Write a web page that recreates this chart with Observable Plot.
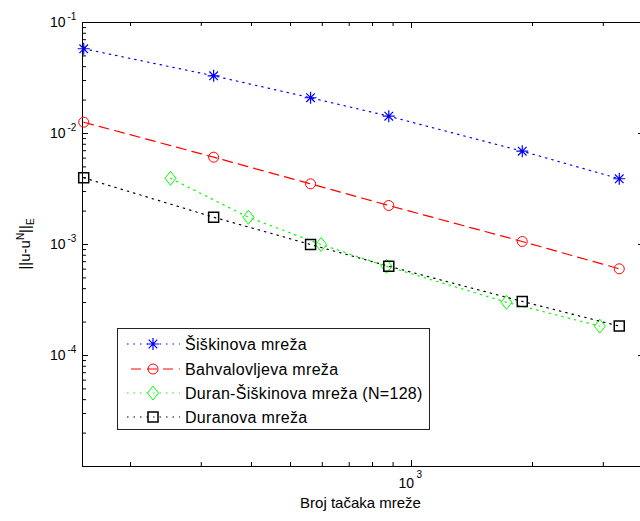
<!DOCTYPE html>
<html><head><meta charset="utf-8">
<script src="https://cdn.jsdelivr.net/npm/d3@7"></script>
<script src="https://cdn.jsdelivr.net/npm/@observablehq/plot@0.6"></script>
<style>
html,body{margin:0;padding:0;overflow:hidden;background:#fff;}
#wrap{position:relative;width:640px;height:521px;overflow:hidden;}
#wrap svg{max-width:none !important;}
#legend{position:absolute;left:117px;top:328px;}
</style></head><body><div id="wrap"></div>
<script>
// ---- data ----
const xShared = [153, 322, 561, 878, 1886, 3287];          // Šiškin, Bahvalov, Duran meshes
const xDuranSiskin = [251.5, 393, 596, 867, 1723, 2940];   // Duran-Šiškin mesh
const ySiskin = [0.0580, 0.0331, 0.0210, 0.01432, 0.00693, 0.00391];
const yBahvalov = [0.01264, 0.00612, 0.00352, 0.002245, 0.001064, 0.000604];
const yDuranSiskin = [0.00395, 0.00176, 0.00100, 0.000637, 0.000302, 0.000184];
const yDuran = [0.00399, 0.001761, 0.00100, 0.000637, 0.000307, 0.000184];
const seriesNames = ["Šiškinova mreža", "Bahvalovljeva mreža", "Duran-Šiškinova mreža (N=128)", "Duranova mreža"];
const seriesColors = ["#0000ff", "#ff0000", "#00ff00", "#000000"];
const xMajorTicks = [1000];
const xMinorTicks = [200, 300, 400, 500, 600, 700, 800, 900, 2000, 3000];
const yMajorTicks = [1e-1, 1e-2, 1e-3, 1e-4];
const yMinorMultipliers = [2, 3, 4, 5, 6, 7, 8, 9];
const yMinorDecades = [1e-5, 1e-4, 1e-3, 1e-2];
const xLabel = "Broj tačaka mreže";

const yMinorTicks = yMinorDecades.flatMap(d => yMinorMultipliers.map(m => m * d));

// ---- layout ----
const W = 645, H = 521, mL = 82, mT = 22, mB = 55, mR = 0;
const plotW = W - mL - mR, plotH = H - mT - mB;
const font = '"Liberation Sans", Arial, sans-serif';

// ---- marker shapes ----
const starSymbol = {draw(ctx) { const r = 6, a = 4.3;
  ctx.moveTo(-r, 0); ctx.lineTo(r, 0); ctx.moveTo(0, -r); ctx.lineTo(0, r);
  ctx.moveTo(-a, -a); ctx.lineTo(a, a); ctx.moveTo(-a, a); ctx.lineTo(a, -a); }};
const circleSymbol = {draw(ctx) { ctx.moveTo(5, 0); ctx.arc(0, 0, 5, 0, 2 * Math.PI); }};
const diamondSymbol = {draw(ctx) { ctx.moveTo(0, -7); ctx.lineTo(5.5, 0); ctx.lineTo(0, 7); ctx.lineTo(-5.5, 0); ctx.closePath(); }};
const squareSymbol = {draw(ctx) { ctx.moveTo(-5, -5); ctx.lineTo(5, -5); ctx.lineTo(5, 5); ctx.lineTo(-5, 5); ctx.closePath(); }};
const symbols = [starSymbol, circleSymbol, diamondSymbol, squareSymbol];
const dashes = ["1.5,5", "10,6", "1.5,5", "1.5,5"];
const markerWidth = [1.2, 1, 1, 1.5];

const seriesData = [
  xShared.map((x, i) => ({x, y: ySiskin[i]})),
  xShared.map((x, i) => ({x, y: yBahvalov[i]})),
  xDuranSiskin.map((x, i) => ({x, y: yDuranSiskin[i]})),
  xShared.map((x, i) => ({x, y: yDuran[i]}))
];

const marks = [];
marks.push(Plot.frame({stroke: "black", strokeWidth: 1}));
marks.push(Plot.tickY(yMajorTicks, {y: d => d, insetRight: plotW - 6, stroke: "black"}));
marks.push(Plot.tickY(yMinorTicks, {y: d => d, insetRight: plotW - 4, stroke: "black"}));
marks.push(Plot.tickY(yMajorTicks, {y: d => d, insetLeft: plotW - 7, stroke: "black"}));
marks.push(Plot.tickY(yMinorTicks, {y: d => d, insetLeft: plotW - 4, stroke: "black"}));
marks.push(Plot.tickX(xMajorTicks, {x: d => d, insetTop: plotH - 6, stroke: "black"}));
marks.push(Plot.tickX(xMinorTicks, {x: d => d, insetTop: plotH - 4, stroke: "black"}));
marks.push(Plot.tickX(xMajorTicks, {x: d => d, insetBottom: plotH - 6, stroke: "black"}));
marks.push(Plot.tickX(xMinorTicks, {x: d => d, insetBottom: plotH - 4, stroke: "black"}));
marks.push(Plot.text(yMajorTicks, {y: d => d, text: () => "10", frameAnchor: "left", textAnchor: "end", dx: -17, fontSize: 14, fill: "black"}));
marks.push(Plot.text(yMajorTicks, {y: d => d, text: d => String(Math.round(Math.log10(d))), frameAnchor: "left", textAnchor: "start", dx: -15, dy: -6, fontSize: 10, fill: "black"}));
marks.push(Plot.text(xMajorTicks, {x: d => d, text: () => "10", frameAnchor: "bottom", textAnchor: "end", dx: 2.5, dy: 21.2, fontSize: 14, fill: "black"}));
marks.push(Plot.text(xMajorTicks, {x: d => d, text: d => String(Math.round(Math.log10(d))), frameAnchor: "bottom", textAnchor: "start", dx: 5, dy: 11.9, fontSize: 10, fill: "black"}));
marks.push(Plot.text([xLabel], {text: d => d, frameAnchor: "bottom", dx: -3.5, dy: 41.5, fontSize: 15, fill: "black"}));
seriesData.forEach((data, k) => {
  marks.push(Plot.line(data, {x: "x", y: "y", stroke: seriesColors[k], strokeWidth: 1.2, strokeDasharray: dashes[k]}));
  marks.push(Plot.dot(data, {x: "x", y: "y", symbol: () => symbols[k], r: 5, stroke: seriesColors[k], fill: "none", strokeWidth: markerWidth[k]}));
});

const chart = Plot.plot({
  width: W, height: H,
  marginLeft: mL, marginRight: mR, marginTop: mT, marginBottom: mB,
  x: {type: "log", domain: [151.94, 3820], axis: null},
  y: {type: "log", domain: [1e-5, 1e-1], axis: null},
  style: {fontFamily: font, background: "white", maxWidth: "none"},
  marks
});

const yl = d3.select(chart).append("text")
  .attr("transform", "translate(30,244) rotate(-90)")
  .attr("text-anchor", "middle").attr("font-family", font).attr("font-size", 15).attr("fill", "black");
yl.append("tspan").text("||u-u");
yl.append("tspan").attr("font-size", 10).attr("dy", -6).text("N");
yl.append("tspan").attr("dy", 6).text("||");
yl.append("tspan").attr("font-size", 10).attr("dy", 4).text("E");

const wrap = document.getElementById("wrap");
wrap.appendChild(chart);

const lg = d3.select(wrap).append("svg").attr("id", "legend").attr("width", 314).attr("height", 103);
lg.append("rect").attr("x", 0.5).attr("y", 0.5).attr("width", 312).attr("height", 101)
  .attr("fill", "white").attr("stroke", "#222").attr("stroke-width", 1);
const rowY = [16, 41, 65, 89];
const legendSym = [
  "M-6,0H6M0,-6V6M-4.3,-4.3L4.3,4.3M-4.3,4.3L4.3,-4.3",
  "M5,0A5,5 0 1 1 -5,0A5,5 0 1 1 5,0Z",
  "M0,-7L5.5,0L0,7L-5.5,0Z",
  "M-5,-5H5V5H-5Z"
];
seriesNames.forEach((name, k) => {
  const g = lg.append("g").attr("transform", `translate(0,${rowY[k]})`);
  g.append("line").attr("x1", k === 1 ? 14 : 10).attr("x2", 63).attr("y1", 0).attr("y2", 0)
    .attr("stroke", seriesColors[k]).attr("stroke-width", 1.2).attr("stroke-dasharray", dashes[k]);
  g.append("path").attr("transform", "translate(36,0)").attr("d", legendSym[k])
    .attr("fill", "none").attr("stroke", seriesColors[k]).attr("stroke-width", markerWidth[k]);
  g.append("text").attr("x", 68).attr("y", 5.5).attr("font-family", font).attr("font-size", 16)
    .attr("letter-spacing", 0.3).attr("fill", "black").text(name);
});
</script></body></html>
